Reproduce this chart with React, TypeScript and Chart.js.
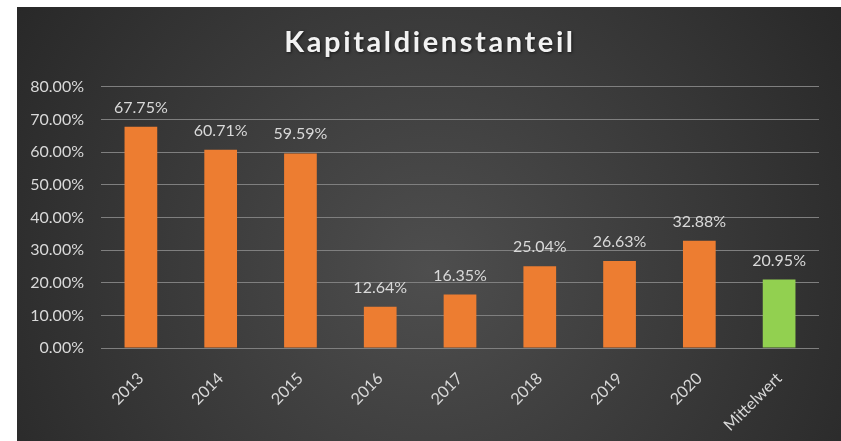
import React, { useEffect, useRef } from "react";
import { Chart, registerables } from "chart.js";

Chart.register(...registerables);

const categories = ["2013", "2014", "2015", "2016", "2017", "2018", "2019", "2020", "Mittelwert"];
const values = [67.75, 60.71, 59.59, 12.64, 16.35, 25.04, 26.63, 32.88, 20.95];
const barColors = ["#ED7D31", "#ED7D31", "#ED7D31", "#ED7D31", "#ED7D31", "#ED7D31", "#ED7D31", "#ED7D31", "#92D050"];
const yMin = 0;
const yMax = 80;
const yStep = 10;
const chartTitle = "Kapitaldienstanteil";

const FONT = "Lato, 'Open Sans', sans-serif";
const TEXT = "#d9d9d9";

const backgroundPlugin = {
  id: "bgPlugin",
  beforeDraw(chart: any) {
    const { ctx, width, height } = chart;
    ctx.save();
    ctx.fillStyle = "#ffffff";
    ctx.fillRect(0, 0, width, height);
    const g = ctx.createRadialGradient(430, 270, 0, 430, 270, 520);
    g.addColorStop(0, "#4e4e4e");
    g.addColorStop(1, "#262626");
    ctx.fillStyle = g;
    ctx.fillRect(17, 7, width - 17, height - 7);
    ctx.restore();
  },
};

const titlePlugin = {
  id: "spacedTitle",
  afterDraw(chart: any) {
    const { ctx } = chart;
    ctx.save();
    ctx.font = `bold 29px ${FONT}`;
    (ctx as any).letterSpacing = "2.6px";
    ctx.fillStyle = "#f2f2f2";
    ctx.textAlign = "center";
    ctx.textBaseline = "middle";
    ctx.shadowColor = "rgba(0,0,0,0.6)";
    ctx.shadowBlur = 3;
    ctx.shadowOffsetX = 1;
    ctx.shadowOffsetY = 1;
    ctx.fillText(chartTitle, 430, 43);
    ctx.restore();
  },
};

const labelPlugin = {
  id: "valueLabels",
  afterDatasetsDraw(chart: any) {
    const { ctx } = chart;
    const meta = chart.getDatasetMeta(0);
    ctx.save();
    ctx.fillStyle = TEXT;
    ctx.font = `16px ${FONT}`;
    ctx.textAlign = "center";
    ctx.textBaseline = "alphabetic";
    meta.data.forEach((bar: any, i: number) => {
      ctx.fillText(values[i].toFixed(2) + "%", bar.x, bar.y - 14);
    });
    ctx.restore();
  },
};

export default function App() {
  const ref = useRef<HTMLCanvasElement | null>(null);
  useEffect(() => {
    document.body.style.margin = "0";
    const chart = new Chart(ref.current as HTMLCanvasElement, {
      type: "bar",
      data: {
        labels: categories,
        datasets: [
          {
            data: values,
            backgroundColor: barColors,
            borderWidth: 0,
            barPercentage: 0.82,
            categoryPercentage: 0.5,
          },
        ],
      },
      options: {
        animation: false,
        responsive: false,
        layout: { padding: { top: 7, right: 22, bottom: 0, left: 0 } },
        plugins: {
          legend: { display: false },
          tooltip: { enabled: false },
          title: {
            display: true,
            text: chartTitle,
            color: "rgba(0,0,0,0)",
            font: { family: FONT, size: 29, weight: "bold", lineHeight: 1.2 },
            padding: { top: 19, bottom: 26 },
          },
        },
        scales: {
          x: {
            grid: { display: false },
            border: { display: false },
            ticks: {
              color: TEXT,
              font: { family: FONT, size: 16 },
              minRotation: 45,
              maxRotation: 45,
              padding: 13,
            },
            afterFit(scale: any) {
              scale.height = 93;
            },
          },
          y: {
            min: yMin,
            max: yMax,
            grid: { color: "#7f7f7f", lineWidth: 1, drawTicks: false },
            border: { display: false },
            ticks: {
              stepSize: yStep,
              color: TEXT,
              font: { family: FONT, size: 16 },
              padding: 17,
              callback: (v: any) => Number(v).toFixed(2) + "%",
            },
            afterFit(scale: any) {
              scale.width = 101;
            },
          },
        },
      },
      plugins: [backgroundPlugin, labelPlugin, titlePlugin],
    });
    return () => chart.destroy();
  }, []);
  return (
    <div style={{ width: 841, height: 441 }}>
      <canvas ref={ref} width={841} height={441} style={{ display: "block" }} />
    </div>
  );
}
